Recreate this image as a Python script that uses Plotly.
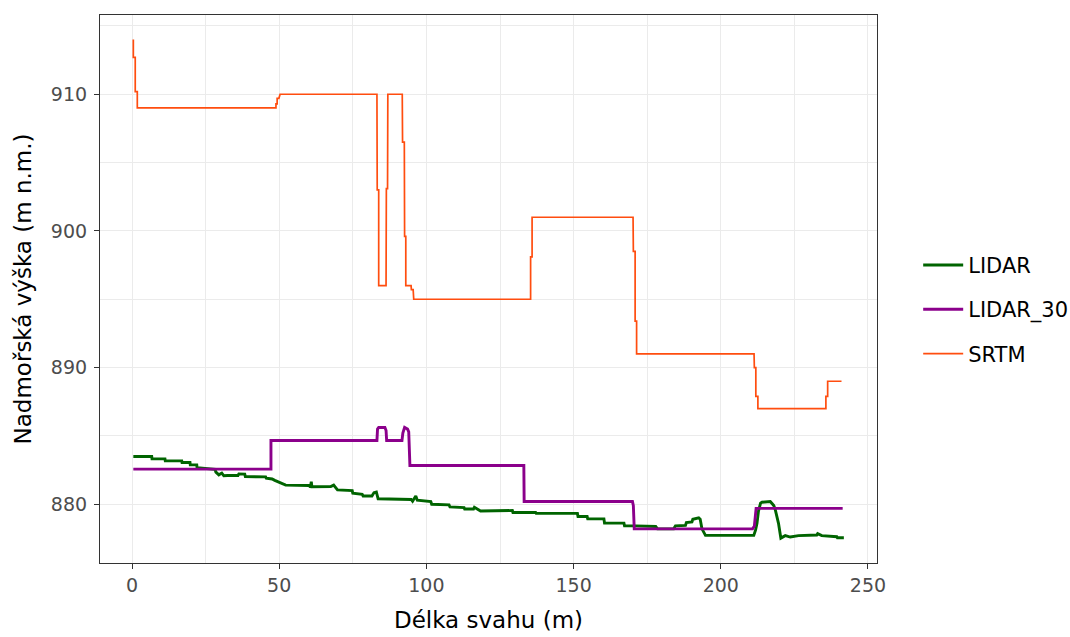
import plotly.graph_objects as go

# ---- data ----
srtm_x = [0.45, 0.45, 1.1, 1.1, 1.8, 1.8, 48.9, 48.9, 49.3, 49.3, 49.9, 50.3,
          83.2, 83.3, 83.8, 83.8, 86.3, 86.4, 86.8, 86.9, 91.8, 91.9, 92.5, 92.6,
          93.0, 93.0, 94.8, 94.9, 95.5, 95.7, 135.4, 135.4, 135.9, 135.9, 170.2,
          170.3, 170.9, 170.9, 171.4, 171.4, 211.3, 211.4, 211.9, 211.9, 212.6,
          212.6, 235.7, 235.7, 236.3, 236.3, 241.0]
srtm_y = [914.0, 912.7, 912.7, 910.2, 910.2, 909.0, 909.0, 909.3, 909.3, 909.7, 909.7, 910.0,
          910.0, 903.0, 903.0, 896.0, 896.0, 903.1, 903.1, 910.0, 910.0, 906.5, 906.5, 899.6,
          899.6, 896.0, 896.0, 895.7, 895.7, 895.0, 895.0, 898.1, 898.1, 901.0, 901.0,
          898.5, 898.5, 893.4, 893.4, 891.0, 891.0, 890.0, 890.0, 887.9, 887.9,
          887.0, 887.0, 887.9, 887.9, 889.0, 889.0]

lidar30_x = [0.45, 47.2, 47.2, 83.2, 83.4, 83.8, 85.9, 86.3, 86.5, 91.7, 92.0, 92.6,
             93.6, 94.0, 94.4, 133.1, 133.2, 170.0, 170.3, 170.6, 210.8, 211.4, 212.0, 241.4]
lidar30_y = [882.57, 882.57, 884.66, 884.66, 885.5, 885.62, 885.62, 885.4, 884.66, 884.66,
             885.2, 885.62, 885.5, 885.3, 882.83, 882.83, 880.2, 880.2, 879.9, 878.2,
             878.2, 878.4, 879.7, 879.7]

lidar_x = [0.45, 6.7, 6.8, 11.2, 11.3, 16.9, 17.0, 19.7, 19.8, 22.0, 22.1, 24.3, 28.2,
           28.5, 29.5, 30.5, 31.2, 32.4, 36.0, 36.3, 38.3, 38.5, 45.4, 45.6, 47.6, 48.5,
           49.9, 52.2, 60.1, 60.6, 60.9, 61.1, 67.5, 68.5, 69.8, 74.8, 75.0, 78.2, 78.5,
           81.5, 82.2, 83.0, 83.6, 94.8, 95.3, 95.8, 96.4, 96.9, 101.5, 101.8, 107.7,
           108.0, 112.8, 113.0, 116.0, 116.3, 117.0, 118.4, 129.2, 129.4, 137.1, 137.3,
           151.3, 151.5, 154.6, 154.8, 160.3, 160.5, 167.1, 167.3, 171.1, 177.9, 178.5,
           184.0, 184.6, 188.0, 188.3, 190.2, 190.5, 192.5, 193.0, 193.6, 194.8, 211.2,
           211.8, 212.3, 212.8, 213.5, 214.0, 216.8, 217.4, 218.0, 218.5, 219.6, 220.4,
           221.9, 223.6, 226.4, 232.6, 232.9, 234.3, 239.4, 239.6, 241.8]
lidar_y = [883.49, 883.49, 883.32, 883.32, 883.17, 883.17, 883.05, 883.05, 882.88, 882.88,
           882.68, 882.62, 882.55, 882.35, 882.15, 882.28, 882.08, 882.1, 882.1, 882.22,
           882.2, 882.02, 882.0, 881.9, 881.85, 881.75, 881.6, 881.4, 881.37, 881.25,
           881.65, 881.28, 881.3, 881.4, 881.05, 881.0, 880.8, 880.72, 880.6, 880.6,
           880.85, 880.9, 880.4, 880.35, 880.22, 880.45, 880.6, 880.3, 880.2, 880.0,
           879.95, 879.8, 879.75, 879.65, 879.65, 879.78, 879.7, 879.5, 879.54, 879.4,
           879.4, 879.33, 879.33, 879.1, 879.1, 878.93, 878.93, 878.62, 878.62, 878.42,
           878.42, 878.37, 878.2, 878.2, 878.42, 878.45, 878.66, 878.7, 878.9, 879.0,
           878.9, 878.2, 877.72, 877.72, 878.1, 878.6, 879.5, 880.08, 880.15, 880.2,
           880.05, 879.9, 879.6, 878.6, 877.52, 877.7, 877.6, 877.7, 877.75, 877.85,
           877.7, 877.62, 877.55, 877.55]

x_ticks = [0, 50, 100, 150, 200, 250]
y_ticks = [880, 890, 900, 910]

FONT = "DejaVu Sans"

fig = go.Figure()
fig.add_trace(go.Scatter(x=lidar_x, y=lidar_y, mode="lines", name="LIDAR",
                         legendgroup="a", line=dict(color="#006400", width=2.9)))
fig.add_trace(go.Scatter(x=lidar30_x, y=lidar30_y, mode="lines", name="LIDAR_30",
                         legendgroup="b", line=dict(color="#8B008B", width=2.9)))
fig.add_trace(go.Scatter(x=srtm_x, y=srtm_y, mode="lines", name="SRTM",
                         legendgroup="c", line=dict(color="#FF4D0F", width=1.7)))

axis_common = dict(
    showline=True, mirror=True, linecolor="#333333", linewidth=1.2,
    showgrid=True, gridcolor="#EBEBEB", gridwidth=1.4,
    ticks="outside", ticklen=5, tickcolor="#333333", tickwidth=1.1,
    tickfont=dict(family=FONT, size=19, color="#4D4D4D"),
    zeroline=False, automargin=False,
)

fig.update_xaxes(
    range=[-10.87, 253.06], tickvals=x_ticks,
    minor=dict(dtick=25, tick0=0, showgrid=True, gridcolor="#EBEBEB", gridwidth=1.2, ticks=""),
    title=dict(text="Délka svahu (m)", font=dict(family=FONT, size=23, color="#000000"), standoff=16),
    **axis_common,
)
fig.update_yaxes(
    range=[875.7, 915.8], tickvals=y_ticks,
    minor=dict(dtick=5, tick0=0, showgrid=True, gridcolor="#EBEBEB", gridwidth=1.2, ticks=""),
    title=dict(text="Nadmořská výška (m n.m.)", font=dict(family=FONT, size=23, color="#000000"), standoff=12),
    ticklabelstandoff=3,
    **axis_common,
)

fig.update_layout(
    width=1070, height=637,
    margin=dict(l=100, r=193, t=15, b=74, autoexpand=False),
    paper_bgcolor="white", plot_bgcolor="white",
    showlegend=True,
    legend=dict(x=1.053, xanchor="left", y=0.463, yanchor="middle",
                font=dict(family=FONT, size=21, color="#000000"),
                tracegroupgap=14, bgcolor="rgba(0,0,0,0)", itemwidth=40),
)

fig.write_html("out.html")
